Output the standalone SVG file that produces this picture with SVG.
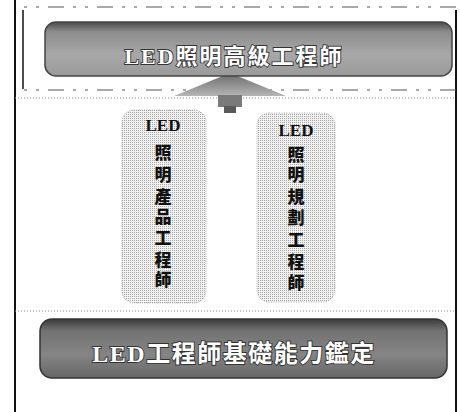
<svg xmlns="http://www.w3.org/2000/svg" width="460" height="412" viewBox="0 0 460 412">
<defs>
<linearGradient id="gTop" x1="0" y1="0" x2="0" y2="1">
<stop offset="0" stop-color="#4a4a4a"/>
<stop offset="0.18" stop-color="#8c8c8c"/>
<stop offset="0.6" stop-color="#a8a8a8"/>
<stop offset="1" stop-color="#9a9a9a"/>
</linearGradient>
<linearGradient id="gBot" x1="0" y1="0" x2="0" y2="1">
<stop offset="0" stop-color="#3a3a3a"/>
<stop offset="0.2" stop-color="#727272"/>
<stop offset="0.6" stop-color="#858585"/>
<stop offset="1" stop-color="#666"/>
</linearGradient>
<linearGradient id="gArrow" x1="0" y1="0" x2="0" y2="1">
<stop offset="0" stop-color="#6a6a6a"/>
<stop offset="1" stop-color="#b5b5b5"/>
</linearGradient>
<pattern id="dots" width="2" height="2" patternUnits="userSpaceOnUse">
<rect width="2" height="2" fill="#f2f2f2"/>
<rect width="1" height="1" fill="#a5a5a5"/>
</pattern>
<style>
.frame{stroke:#111;fill:none}
.dash{stroke:#555;stroke-width:1.2;stroke-dasharray:3 9 3 9 16 9;fill:none}
.dot{stroke:#888;stroke-width:1;stroke-dasharray:1 2;fill:none}
.banner-t{font-family:"Liberation Serif","Noto Sans CJK TC",serif;font-weight:bold;fill:#fff;stroke:#333;stroke-width:1.8;paint-order:stroke;text-anchor:middle}
.col{font-family:"Liberation Serif","Noto Sans CJK TC",serif;font-weight:900;font-size:17px;fill:#111;text-anchor:middle}
.box{fill:url(#dots);stroke:#aaa;stroke-width:1;stroke-dasharray:1 1.5}
</style>
</defs>
<g id="frame">
<line class="frame" x1="15" y1="0" x2="15" y2="412" stroke-width="2"/>
<line class="frame" x1="456" y1="10" x2="456" y2="412" stroke-width="2"/>
<line class="frame" x1="23" y1="10" x2="23" y2="89" stroke-width="1.5"/>
<line class="dash" x1="24" y1="7" x2="456" y2="7"/>
<line class="dash" x1="24" y1="90" x2="456" y2="90"/>
<line class="dot" x1="15" y1="98" x2="456" y2="98"/>
<line class="dot" x1="15" y1="311" x2="456" y2="311"/>
</g>
<g id="connectors">
<polygon points="230,73 286,96 174,96" fill="url(#gArrow)"/>
<rect x="218" y="95" width="24" height="12" fill="#7a7a7a"/>
<rect x="224" y="106" width="12" height="7" fill="#5a5a5a"/>
</g>
<g id="node-top">
<rect x="45" y="22" width="407" height="54" rx="11" fill="url(#gTop)" stroke="#444" stroke-width="1.5"/>
<text class="banner-t" x="234" y="64" font-size="22" letter-spacing="2">LED照明高級工程師</text>
</g>
<g id="node-left">
<rect class="box" x="122" y="110" width="84" height="193" rx="12"/>
<text class="col" x="163" y="131">LED</text>
<text class="col" x="163" y="159">照</text>
<text class="col" x="163" y="181">明</text>
<text class="col" x="163" y="203">產</text>
<text class="col" x="163" y="223">品</text>
<text class="col" x="163" y="244">工</text>
<text class="col" x="163" y="266">程</text>
<text class="col" x="163" y="286">師</text>
</g>
<g id="node-right">
<rect class="box" x="257" y="113" width="78" height="189" rx="12"/>
<text class="col" x="296" y="136">LED</text>
<text class="col" x="296" y="161">照</text>
<text class="col" x="296" y="181">明</text>
<text class="col" x="296" y="203">規</text>
<text class="col" x="296" y="224">劃</text>
<text class="col" x="296" y="246">工</text>
<text class="col" x="296" y="268">程</text>
<text class="col" x="296" y="289">師</text>
</g>
<g id="node-bottom">
<rect x="40" y="319" width="407" height="59" rx="12" fill="url(#gBot)" stroke="#333" stroke-width="1.5"/>
<text class="banner-t" x="234" y="362" font-size="24" letter-spacing="1.5">LED工程師基礎能力鑑定</text>
</g>
</svg>
